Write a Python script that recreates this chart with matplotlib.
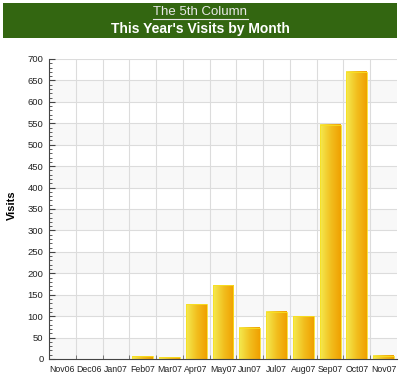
import matplotlib
matplotlib.use("Agg")
import matplotlib.pyplot as plt
import numpy as np
from matplotlib.colors import LinearSegmentedColormap
from matplotlib.patches import Rectangle

months = ["Nov06", "Dec06", "Jan07", "Feb07", "Mar07", "Apr07", "May07",
          "Jun07", "Jul07", "Aug07", "Sep07", "Oct07", "Nov07"]
visits = [0, 0, 0, 7, 4, 128, 172, 73, 110, 100, 547, 670, 8]
title_top = "The 5th Column"
title_main = "This Year's Visits by Month"
ylabel = "Visits"

plt.rcParams['font.family'] = ['Liberation Sans', 'DejaVu Sans']

fig = plt.figure(figsize=(4.0, 3.81), dpi=100)
fig.patch.set_facecolor("white")

# banner
fig.patches.append(Rectangle((3/400, 1 - 38/381), 394/400, 35/381,
                             transform=fig.transFigure, facecolor="#336611",
                             edgecolor="none", zorder=0))
fig.text(0.5, 1 - 12/381, title_top, ha="center", va="center", color="#e8e8e8",
         fontsize=9.5)
fig.add_artist(plt.Line2D([153/400, 248/400], [1 - 18.5/381, 1 - 18.5/381],
                          transform=fig.transFigure, color="#e8e8e8", lw=0.8))
fig.text(0.5, 1 - 29/381, title_main, ha="center", va="center", color="white",
         fontsize=10, fontweight="bold")

ax = fig.add_axes([49/400, 22/381, 348/400, 300/381])
ax.set_facecolor("white")
x = np.arange(len(months))

# alternating bands
for i, y0 in enumerate(range(0, 700, 50)):
    if i % 2 == 0:
        ax.axhspan(y0, y0 + 50, color="#f8f8f8", zorder=0, lw=0)
for y0 in range(50, 701, 50):
    ax.axhline(y0, color="#dcdcdc", lw=0.8, zorder=0.5)
for xb in np.arange(0.5, len(months) - 0.5, 1):
    ax.axvline(xb, color="#dcdcdc", lw=0.8, zorder=0.5)

bars = ax.bar(x, visits, width=0.78, facecolor="none", edgecolor="#f8e020",
              lw=0.6, zorder=3)
cmap = LinearSegmentedColormap.from_list("g", ["#f4ea50", "#f2c020", "#f0a000"])
grad = np.linspace(0, 1, 64).reshape(1, -1)
for b in bars:
    h = b.get_height()
    if h <= 0:
        continue
    x0 = b.get_x()
    w = b.get_width()
    ax.imshow(grad, cmap=cmap, aspect="auto", extent=(x0, x0 + w, 0, h),
              zorder=2, interpolation="bicubic")
ax.set_xlim(-0.5, len(months) - 0.5)
ax.set_ylim(0, 700)

ax.set_xticks(x)
ax.set_xticklabels(months, fontsize=6.3, color="#222222")
ax.set_yticks(range(0, 701, 50))
ax.set_yticklabels([str(v) for v in range(0, 701, 50)], fontsize=6.8, color="#222222")
ax.set_yticks(range(0, 701, 10), minor=True)
ax.tick_params(axis="y", which="major", length=4, color="#444444", pad=4, direction="in")
ax.tick_params(axis="y", which="minor", length=2, color="#444444", direction="in")
ax.set_xticks(np.arange(0.5, len(months) - 0.5, 1), minor=True)
ax.tick_params(axis="x", which="minor", length=3, color="#666666", direction="in")
ax.tick_params(axis="x", which="major", length=0, pad=4)

for s in ["top", "right"]:
    ax.spines[s].set_visible(False)
ax.spines["left"].set_color("#444444")
ax.spines["bottom"].set_color("#444444")
ax.spines["left"].set_linewidth(0.8)
ax.spines["bottom"].set_linewidth(0.8)

fig.text(12/400, 1 - 205/381, ylabel, rotation=90, ha="center", va="center",
         fontsize=8, fontweight="bold")

fig.savefig("out.png", dpi=100)
